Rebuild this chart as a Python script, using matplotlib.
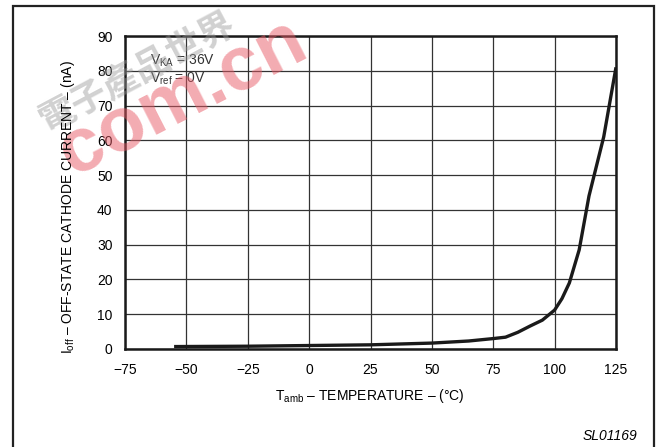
import matplotlib
matplotlib.use("Agg")
import matplotlib.pyplot as plt
from matplotlib.patches import Rectangle

plt.rcParams['font.family'] = ['Liberation Sans', 'Noto Sans CJK SC', 'DejaVu Sans']
plt.rcParams['mathtext.fontset'] = 'custom'
plt.rcParams['mathtext.rm'] = 'Liberation Sans'

temp = [-55, -25, 0, 25, 50, 65, 75, 80, 85, 90, 95, 100, 103, 106, 110, 114, 120, 125]
ioff = [0.7, 0.8, 1.0, 1.2, 1.7, 2.3, 3.0, 3.4, 4.8, 6.6, 8.3, 11.2, 14.5, 19.0, 28.5, 44.0, 61.0, 81.0]

xticks = [-75, -50, -25, 0, 25, 50, 75, 100, 125]
yticks = [0, 10, 20, 30, 40, 50, 60, 70, 80, 90]

fig = plt.figure(figsize=(6.58, 4.47), dpi=100)
ax = fig.add_axes([125/658, 98/447, 491/658, 313/447])

# marco exterior
fig.patches.append(Rectangle((13/658, -0.05), 641/658, 1.037, transform=fig.transFigure,
                             fill=False, lw=1.6, ec='#222222'))

# marca de agua (detras de todo)
fig.text(138/658, 1-72/447, "電子產品世界", fontsize=26, color='#999999', alpha=0.45, rotation=28,
	ha='center', va='center', family=['Noto Sans CJK TC'], weight='bold', zorder=0)
fig.text(183/658, 1-98/447, "com.cn", fontsize=55, color='#e85a66', alpha=0.5, rotation=27,
	ha='center', va='center', weight='bold', zorder=0)
ax.set_facecolor('none')

ax.plot(temp, ioff, color='#1a1a1a', lw=2.4, solid_capstyle='butt')

ax.set_xlim(-75, 125)
ax.set_ylim(0, 90)
ax.set_xticks(xticks)
ax.set_yticks(yticks)
ax.tick_params(length=0, labelsize=10, pad=10)
ax.tick_params(axis='y', pad=9)
ax.grid(True, color='#333333', lw=0.9)
for s in ax.spines.values():
	s.set_linewidth(1.8)
	s.set_color('#1a1a1a')

ax.text(-64.8, 81.7, r"V$_{\mathregular{KA}}$ = 36V", fontsize=10, va='baseline', ha='left', color='#333333')
ax.text(-64.8, 76.5, r"V$_{\mathregular{ref}}$ = 0V", fontsize=10, va='baseline', ha='left', color='#333333')

fig.text(370/658, 1-396/447, r"T$_{\mathregular{amb}}$ – TEMPERATURE – (°C)", fontsize=10, ha='center', va='center')
fig.text(68/658, 1-207/447, r"I$_{\mathregular{off}}$ – OFF-STATE CATHODE CURRENT – (nA)", fontsize=10,
	rotation=90, ha='center', va='center')
fig.text(637/658, 1-436/447, "SL01169", fontsize=10, style='italic', ha='right', va='center')

plt.savefig("out.png", dpi=100)
plt.close()
